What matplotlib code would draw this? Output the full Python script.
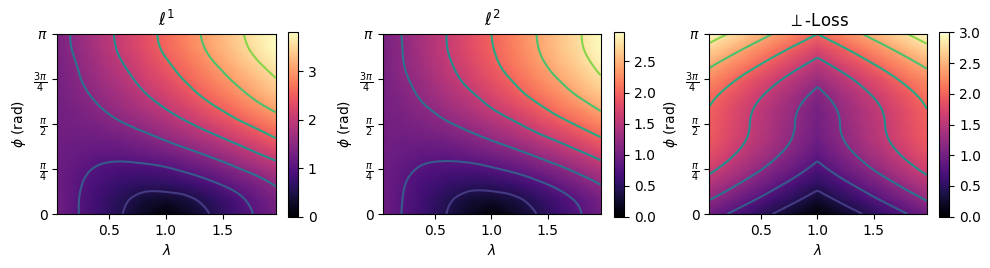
import numpy as np
import matplotlib
matplotlib.use("Agg")
import matplotlib.pyplot as plt
from matplotlib.colors import Normalize
from matplotlib.tri import Triangulation, UniformTriRefiner

lam = [0.04, 0.2, 0.4, 0.6, 0.8, 1.0, 1.2, 1.4, 1.6, 1.8, 1.97]
phi_twelfths = [0, 1, 2, 3, 4, 5, 6, 7, 8, 9, 10, 11, 12]

l1_loss = [
    [1.25, 1.04, 0.78, 0.52, 0.26, 0.00, 0.26, 0.52, 0.78, 1.04, 1.26],
    [1.24, 1.04, 0.80, 0.58, 0.40, 0.34, 0.45, 0.65, 0.88, 1.13, 1.34],
    [1.23, 1.06, 0.87, 0.72, 0.64, 0.66, 0.76, 0.93, 1.13, 1.34, 1.54],
    [1.22, 1.10, 0.97, 0.90, 0.90, 0.96, 1.09, 1.25, 1.44, 1.64, 1.82],
    [1.23, 1.16, 1.10, 1.10, 1.16, 1.26, 1.40, 1.57, 1.76, 1.97, 2.15],
    [1.25, 1.22, 1.23, 1.29, 1.39, 1.53, 1.70, 1.88, 2.08, 2.29, 2.48],
    [1.26, 1.29, 1.36, 1.47, 1.61, 1.78, 1.97, 2.17, 2.38, 2.59, 2.78],
    [1.27, 1.35, 1.47, 1.63, 1.81, 2.00, 2.21, 2.42, 2.64, 2.87, 3.06],
    [1.29, 1.40, 1.57, 1.76, 1.97, 2.18, 2.40, 2.63, 2.86, 3.10, 3.30],
    [1.30, 1.45, 1.66, 1.87, 2.10, 2.33, 2.56, 2.80, 3.04, 3.28, 3.49],
    [1.31, 1.49, 1.73, 1.97, 2.21, 2.45, 2.70, 2.95, 3.20, 3.45, 3.66],
    [1.34, 1.54, 1.79, 2.05, 2.30, 2.56, 2.81, 3.07, 3.33, 3.58, 3.80],
    [1.35, 1.56, 1.82, 2.08, 2.34, 2.60, 2.86, 3.12, 3.38, 3.64, 3.80],
]

l2_loss = [
    [0.96, 0.80, 0.60, 0.40, 0.20, 0.00, 0.20, 0.40, 0.60, 0.80, 0.97],
    [0.96, 0.81, 0.62, 0.45, 0.31, 0.26, 0.35, 0.51, 0.69, 0.87, 1.04],
    [0.97, 0.83, 0.68, 0.57, 0.50, 0.52, 0.60, 0.73, 0.89, 1.06, 1.21],
    [0.97, 0.87, 0.77, 0.72, 0.71, 0.77, 0.86, 0.99, 1.14, 1.30, 1.45],
    [0.98, 0.92, 0.87, 0.87, 0.92, 1.00, 1.11, 1.25, 1.40, 1.56, 1.71],
    [0.99, 0.97, 0.98, 1.02, 1.11, 1.22, 1.35, 1.50, 1.65, 1.82, 1.97],
    [1.00, 1.02, 1.08, 1.17, 1.28, 1.41, 1.56, 1.72, 1.89, 2.06, 2.21],
    [1.01, 1.07, 1.17, 1.29, 1.43, 1.59, 1.75, 1.92, 2.10, 2.27, 2.43],
    [1.02, 1.11, 1.25, 1.40, 1.56, 1.73, 1.91, 2.09, 2.27, 2.46, 2.62],
    [1.03, 1.15, 1.31, 1.49, 1.67, 1.85, 2.03, 2.22, 2.41, 2.61, 2.77],
    [1.04, 1.18, 1.36, 1.55, 1.74, 1.93, 2.13, 2.32, 2.52, 2.71, 2.88],
    [1.04, 1.19, 1.39, 1.59, 1.79, 1.98, 2.18, 2.38, 2.58, 2.78, 2.95],
    [1.04, 1.20, 1.40, 1.60, 1.80, 2.00, 2.20, 2.40, 2.60, 2.80, 2.97],
]

perp_loss = [
    [0.96, 0.80, 0.60, 0.40, 0.20, 0.00, 0.20, 0.40, 0.60, 0.80, 0.97],
    [1.22, 1.06, 0.86, 0.66, 0.46, 0.26, 0.46, 0.66, 0.86, 1.06, 1.23],
    [1.46, 1.30, 1.10, 0.90, 0.70, 0.50, 0.70, 0.90, 1.10, 1.30, 1.47],
    [1.67, 1.51, 1.31, 1.11, 0.91, 0.71, 0.91, 1.11, 1.31, 1.51, 1.68],
    [1.83, 1.67, 1.47, 1.27, 1.07, 0.87, 1.07, 1.27, 1.47, 1.67, 1.84],
    [1.93, 1.77, 1.57, 1.37, 1.17, 0.97, 1.17, 1.37, 1.57, 1.77, 1.94],
    [1.96, 1.80, 1.60, 1.40, 1.20, 1.00, 1.20, 1.40, 1.60, 1.80, 1.97],
    [1.99, 1.83, 1.63, 1.43, 1.23, 1.03, 1.23, 1.43, 1.63, 1.83, 2.00],
    [2.09, 1.93, 1.73, 1.53, 1.33, 1.13, 1.33, 1.53, 1.73, 1.93, 2.10],
    [2.25, 2.09, 1.89, 1.69, 1.49, 1.29, 1.49, 1.69, 1.89, 2.09, 2.26],
    [2.46, 2.30, 2.10, 1.90, 1.70, 1.50, 1.70, 1.90, 2.10, 2.30, 2.47],
    [2.70, 2.54, 2.34, 2.14, 1.94, 1.74, 1.94, 2.14, 2.34, 2.54, 2.71],
    [2.96, 2.80, 2.60, 2.40, 2.20, 2.00, 2.20, 2.40, 2.60, 2.80, 2.97],
]

titles = [r"$\ell^1$", r"$\ell^2$", r"$\perp$-Loss"]
l1_levels = [0.5, 1.0, 1.5, 2.0, 2.5, 3.0, 3.5]
l2_levels = [0.4, 0.8, 1.2, 1.6, 2.0, 2.4, 2.8]
perp_levels = [0.4, 0.8, 1.2, 1.6, 2.0, 2.4, 2.8]
cbar_ticks = [[0, 1, 2, 3], [0, 0.5, 1, 1.5, 2, 2.5], [0, 0.5, 1, 1.5, 2, 2.5, 3]]
x_ticks = [0.5, 1.0, 1.5]
y_tick_fracs = [0, 0.25, 0.5, 0.75, 1]
y_tick_labels = ["0", r"$\frac{\pi}{4}$", r"$\frac{\pi}{2}$", r"$\frac{3\pi}{4}$", r"$\pi$"]

W, H = 990, 268
fig = plt.figure(figsize=(W / 100, H / 100), dpi=100)


def box(x0, x1, y0, y1):
    return [x0 / W, 1 - y1 / H, (x1 - x0) / W, (y1 - y0) / H]


def draw_contours(ax, x, y, z, levels, splits):
    # The table stays as read; the library's refiner only smooths the drawn lines.
    span = (levels[-1] - levels[0]) / 0.65
    vmin = levels[0] - 0.17 * span
    norm = Normalize(vmin, vmin + span)
    for a, b in splits:
        X, Y = np.meshgrid(x[a:b], y)
        tri = Triangulation(X.ravel(), Y.ravel())
        refined, field = UniformTriRefiner(tri).refine_field(z[:, a:b].ravel(), subdiv=3)
        ax.tricontour(refined, field, levels=levels, cmap="viridis", norm=norm,
                      linewidths=1.5)


panels = [
    (l1_loss, l1_levels, (57.3, 275.7), (288, 298), [(0, 11)]),
    (l2_loss, l2_levels, (383.3, 600.7), (614, 624), [(0, 11)]),
    (perp_loss, perp_levels, (709.3, 926.7), (939.3, 949.3), [(0, 6), (5, 11)]),
]
phi = np.array(phi_twelfths) * np.pi / 12
lam_arr = np.array(lam)

for i, (z, levels, ax_x, cb_x, splits) in enumerate(panels):
    ax = fig.add_axes(box(ax_x[0], ax_x[1], 34, 214))
    z = np.array(z)
    mesh = ax.pcolormesh(lam_arr, phi, z, cmap="magma", shading="gouraud", vmin=0, vmax=z.max())
    draw_contours(ax, lam_arr, phi, z, levels, splits)
    ax.set_xlim(lam[0], lam[-1])
    ax.set_ylim(0, np.pi)
    ax.set_xticks(x_ticks)
    ax.set_xticklabels(["0.5", "1.0", "1.5"])
    ax.set_yticks([f * np.pi for f in y_tick_fracs])
    ax.set_yticklabels(y_tick_labels)
    ax.set_xlabel(r"$\lambda$")
    ax.set_ylabel(r"$\phi$ (rad)")
    ax.set_title(titles[i], fontsize=12)
    cax = fig.add_axes(box(cb_x[0], cb_x[1], 32.3, 216.7))
    cb = fig.colorbar(mesh, cax=cax)
    cb.set_ticks(cbar_ticks[i])

fig.savefig("out.png", dpi=100)
